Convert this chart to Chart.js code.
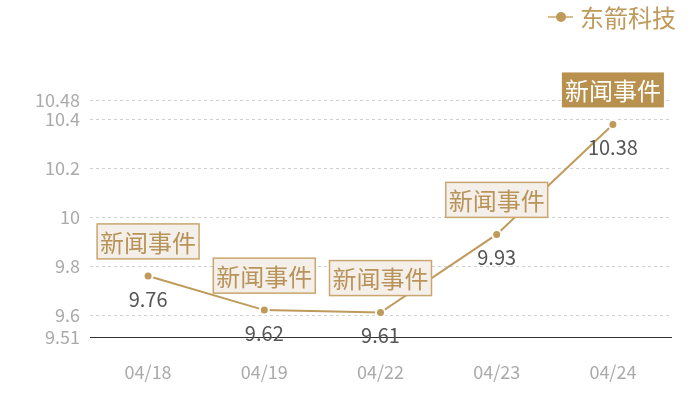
<!DOCTYPE html>
<html><head><meta charset="utf-8">
<script src="https://cdn.jsdelivr.net/npm/chart.js@4"></script>
<style>html,body{margin:0;padding:0;background:#fff}#wrap{width:700px;height:400px}</style>
</head><body><div id="wrap"><canvas id="c"></canvas></div>
<script>
const categories = ['04/18','04/19','04/22','04/23','04/24'];
const prices = [9.76, 9.62, 9.61, 9.93, 10.38];
const seriesName = '东箭科技';
const eventLabels = ['新闻事件','新闻事件','新闻事件','新闻事件','新闻事件'];
const highlightedEvent = 4;
const yTicks = [9.51, 9.6, 9.8, 10, 10.2, 10.4, 10.48];

const GOLD = '#bf9a5a';
const FONT = "'Noto Sans CJK SC','Noto Sans',sans-serif";

const overlay = {
  id: 'overlay',
  afterDatasetsDraw(chart) {
    const ctx = chart.ctx;
    const meta = chart.getDatasetMeta(0);
    ctx.save();
    meta.data.forEach((pt, i) => {
      // value label
      ctx.font = '20px ' + FONT;
      ctx.fillStyle = '#555';
      ctx.textAlign = 'center';
      ctx.textBaseline = 'middle';
      ctx.fillText(String(prices[i]), pt.x, pt.y + 23);
      // event box
      const label = eventLabels[i];
      if (!label) return;
      ctx.font = '24px ' + FONT;
      const tw = ctx.measureText(label).width;
      const w = tw + 6, h = 35;
      const x0 = pt.x - w / 2, y0 = pt.y - 17 - h;
      if (i === highlightedEvent) {
        ctx.fillStyle = '#b8914f';
        ctx.fillRect(x0, y0, w, h);
        ctx.fillStyle = '#ffffff';
      } else {
        ctx.fillStyle = '#f4efe9';
        ctx.fillRect(x0, y0, w, h);
        ctx.strokeStyle = '#c9a66f';
        ctx.lineWidth = 1.5;
        ctx.strokeRect(x0, y0, w, h);
        ctx.fillStyle = '#b8935a';
      }
      ctx.fillText(label, pt.x, y0 + h / 2 + 1);
    });
    // legend
    ctx.strokeStyle = '#d6bd92';
    ctx.lineWidth = 2;
    ctx.beginPath(); ctx.moveTo(548, 17); ctx.lineTo(573, 17); ctx.stroke();
    ctx.fillStyle = GOLD;
    ctx.beginPath(); ctx.arc(561, 17, 5, 0, Math.PI * 2); ctx.fill();
    ctx.font = '24px ' + FONT;
    ctx.textAlign = 'left';
    ctx.textBaseline = 'middle';
    ctx.fillStyle = GOLD;
    ctx.fillText(seriesName, 580, 18);
    ctx.restore();
  }
};

new Chart(document.getElementById('c'), {
  type: 'line',
  data: {
    labels: categories,
    datasets: [{
      label: seriesName,
      data: prices,
      borderColor: GOLD,
      backgroundColor: GOLD,
      borderWidth: 2,
      pointRadius: 4.5,
      pointBackgroundColor: GOLD,
      pointBorderColor: '#ffffff',
      pointBorderWidth: 2,
      tension: 0,
      clip: false
    }]
  },
  options: {
    responsive: true,
    maintainAspectRatio: false,
    animation: false,
    layout: { padding: { top: 100, right: 29, bottom: 0, left: 0 } },
    plugins: { legend: { display: false }, tooltip: { enabled: false } },
    scales: {
      x: {
        offset: true,
        grid: { display: false, drawTicks: false },
        border: { display: true, color: '#333', width: 1 },
        ticks: { color: '#aaa', font: { size: 18, family: FONT }, padding: 24 },
        afterFit(s) { s.height = 63; }
      },
      y: {
        min: 9.51, max: 10.48,
        afterBuildTicks(s) { s.ticks = yTicks.map(v => ({ value: v })); },
        grid: {
          drawTicks: false,
          color: c => (c.tick && c.tick.value === 9.51) ? 'rgba(0,0,0,0)' : '#d0d0d0',
          lineWidth: 1
        },
        border: { display: false, dash: [3, 3] },
        ticks: { color: '#aaa', font: { size: 18, family: FONT }, padding: 10, autoSkip: false,
          callback: v => String(v) },
        afterFit(s) { s.width = 90; }
      }
    }
  },
  plugins: [overlay]
});
</script></body></html>
